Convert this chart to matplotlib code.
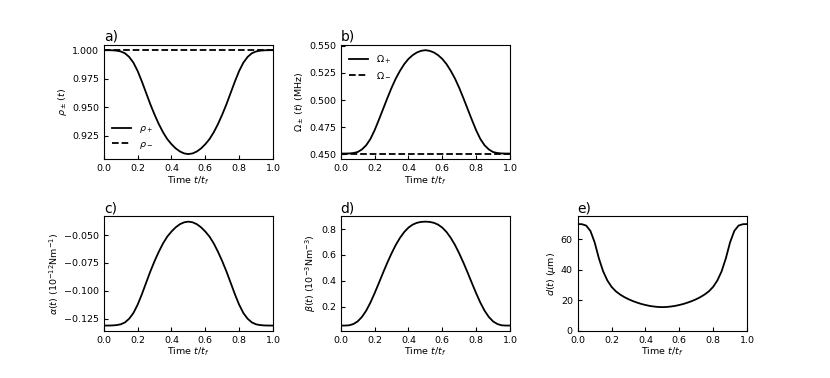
import numpy as np
import matplotlib
matplotlib.use('Agg')
import matplotlib.pyplot as plt

# time grid t/t_f
t = np.linspace(0.0, 1.0, 41)

rho_plus = [1.0, 1.0, 0.9999, 0.9996, 0.9989, 0.9973, 0.9941, 0.9891, 0.9818, 0.9726,
            0.9626, 0.9526, 0.9435, 0.9352, 0.9280, 0.9220, 0.9175, 0.9138, 0.9111, 0.9094,
            0.9088,
            0.9094, 0.9111, 0.9138, 0.9175, 0.9220, 0.9280, 0.9352, 0.9435, 0.9526, 0.9626,
            0.9726, 0.9818, 0.9891, 0.9941, 0.9973, 0.9989, 0.9996, 0.9999, 1.0, 1.0]
rho_minus = [1.0] * 41

omega_plus = [0.4505, 0.4505, 0.4506, 0.4510, 0.4519, 0.4543, 0.4581, 0.4639, 0.4720, 0.4816,
              0.4916, 0.5016, 0.5112, 0.5198, 0.5270, 0.5332, 0.5380, 0.5415, 0.5440, 0.5455,
              0.5461,
              0.5455, 0.5440, 0.5415, 0.5380, 0.5332, 0.5270, 0.5198, 0.5112, 0.5016, 0.4916,
              0.4816, 0.4720, 0.4639, 0.4581, 0.4543, 0.4519, 0.4510, 0.4506, 0.4505, 0.4505]
omega_minus = [0.450] * 41

alpha = [-0.1313, -0.1313, -0.1312, -0.1309, -0.1302, -0.1285, -0.1252, -0.1201, -0.1126, -0.1033,
         -0.0930, -0.0828, -0.0735, -0.0651, -0.0576, -0.0515, -0.0469, -0.0431, -0.0403, -0.0386,
         -0.0380,
         -0.0386, -0.0403, -0.0431, -0.0469, -0.0515, -0.0576, -0.0651, -0.0735, -0.0828, -0.0930,
         -0.1033, -0.1126, -0.1201, -0.1252, -0.1285, -0.1302, -0.1309, -0.1312, -0.1313, -0.1313]

beta = [0.056, 0.056, 0.058, 0.068, 0.088, 0.122, 0.170, 0.232, 0.305, 0.383,
        0.463, 0.540, 0.612, 0.677, 0.732, 0.777, 0.811, 0.834, 0.848, 0.855,
        0.857,
        0.855, 0.848, 0.834, 0.811, 0.777, 0.732, 0.677, 0.612, 0.540, 0.463,
        0.383, 0.305, 0.232, 0.170, 0.122, 0.088, 0.068, 0.058, 0.056, 0.056]

dist = [70.0, 69.9, 69.0, 65.5, 58.0, 47.5, 39.0, 33.0, 28.8, 25.9,
        23.8, 22.1, 20.7, 19.5, 18.5, 17.6, 16.9, 16.3, 15.9, 15.6,
        15.5,
        15.6, 15.9, 16.3, 16.9, 17.6, 18.5, 19.5, 20.7, 22.1, 23.8,
        25.9, 28.8, 33.0, 39.0, 47.5, 58.0, 65.5, 69.0, 69.9, 70.0]

fs = 6.8
lw = 1.3
plt.rcParams['font.size'] = fs

fig, axes = plt.subplots(2, 3, figsize=(8.3, 3.78), dpi=100)
plt.subplots_adjust(left=0.125, right=0.9, top=0.881, bottom=0.125, wspace=0.4, hspace=0.5)


def style(ax, label, ylabel):
    ax.set_title(label, loc='left', fontsize=10, pad=3)
    ax.set_xlim(0, 1)
    ax.set_xlabel(r'Time $t/t_f$', fontsize=fs, labelpad=1)
    ax.set_ylabel(ylabel, fontsize=fs, labelpad=2)
    ax.tick_params(direction='in', labelsize=fs, length=3, width=0.8)
    for s in ax.spines.values():
        s.set_linewidth(0.8)


ax = axes[0, 0]
ax.plot(t, rho_plus, 'k-', lw=lw, label=r'$\rho_+$')
ax.plot(t, rho_minus, 'k--', lw=lw, label=r'$\rho_-$')
ax.set_yticks([0.925, 0.950, 0.975, 1.000])
ax.legend(loc='lower left', frameon=False, fontsize=fs)
style(ax, 'a)', r'$\rho_\pm\,(t)$')

ax = axes[0, 1]
ax.plot(t, omega_plus, 'k-', lw=lw, label=r'$\Omega_+$')
ax.plot(t, omega_minus, 'k--', lw=lw, label=r'$\Omega_-$')
ax.set_yticks([0.450, 0.475, 0.500, 0.525, 0.550])
ax.legend(loc='upper left', frameon=False, fontsize=fs)
style(ax, 'b)', r'$\Omega_\pm\,(t)$ (MHz)')

axes[0, 2].axis('off')

ax = axes[1, 0]
ax.plot(t, alpha, 'k-', lw=lw)
ax.set_yticks([-0.125, -0.100, -0.075, -0.050])
style(ax, 'c)', r'$\alpha(t)$ $(10^{-12}$Nm$^{-1})$')

ax = axes[1, 1]
ax.plot(t, beta, 'k-', lw=lw)
ax.set_yticks([0.2, 0.4, 0.6, 0.8])
style(ax, 'd)', r'$\beta(t)$ $(10^{-3}$Nm$^{-3})$')

ax = axes[1, 2]
ax.plot(t, dist, 'k-', lw=lw)
ax.set_ylim(0, 75)
ax.set_yticks([0, 20, 40, 60])
style(ax, 'e)', r'$d(t)$ ($\mu$m)')

fig.savefig('out.png', dpi=100)
